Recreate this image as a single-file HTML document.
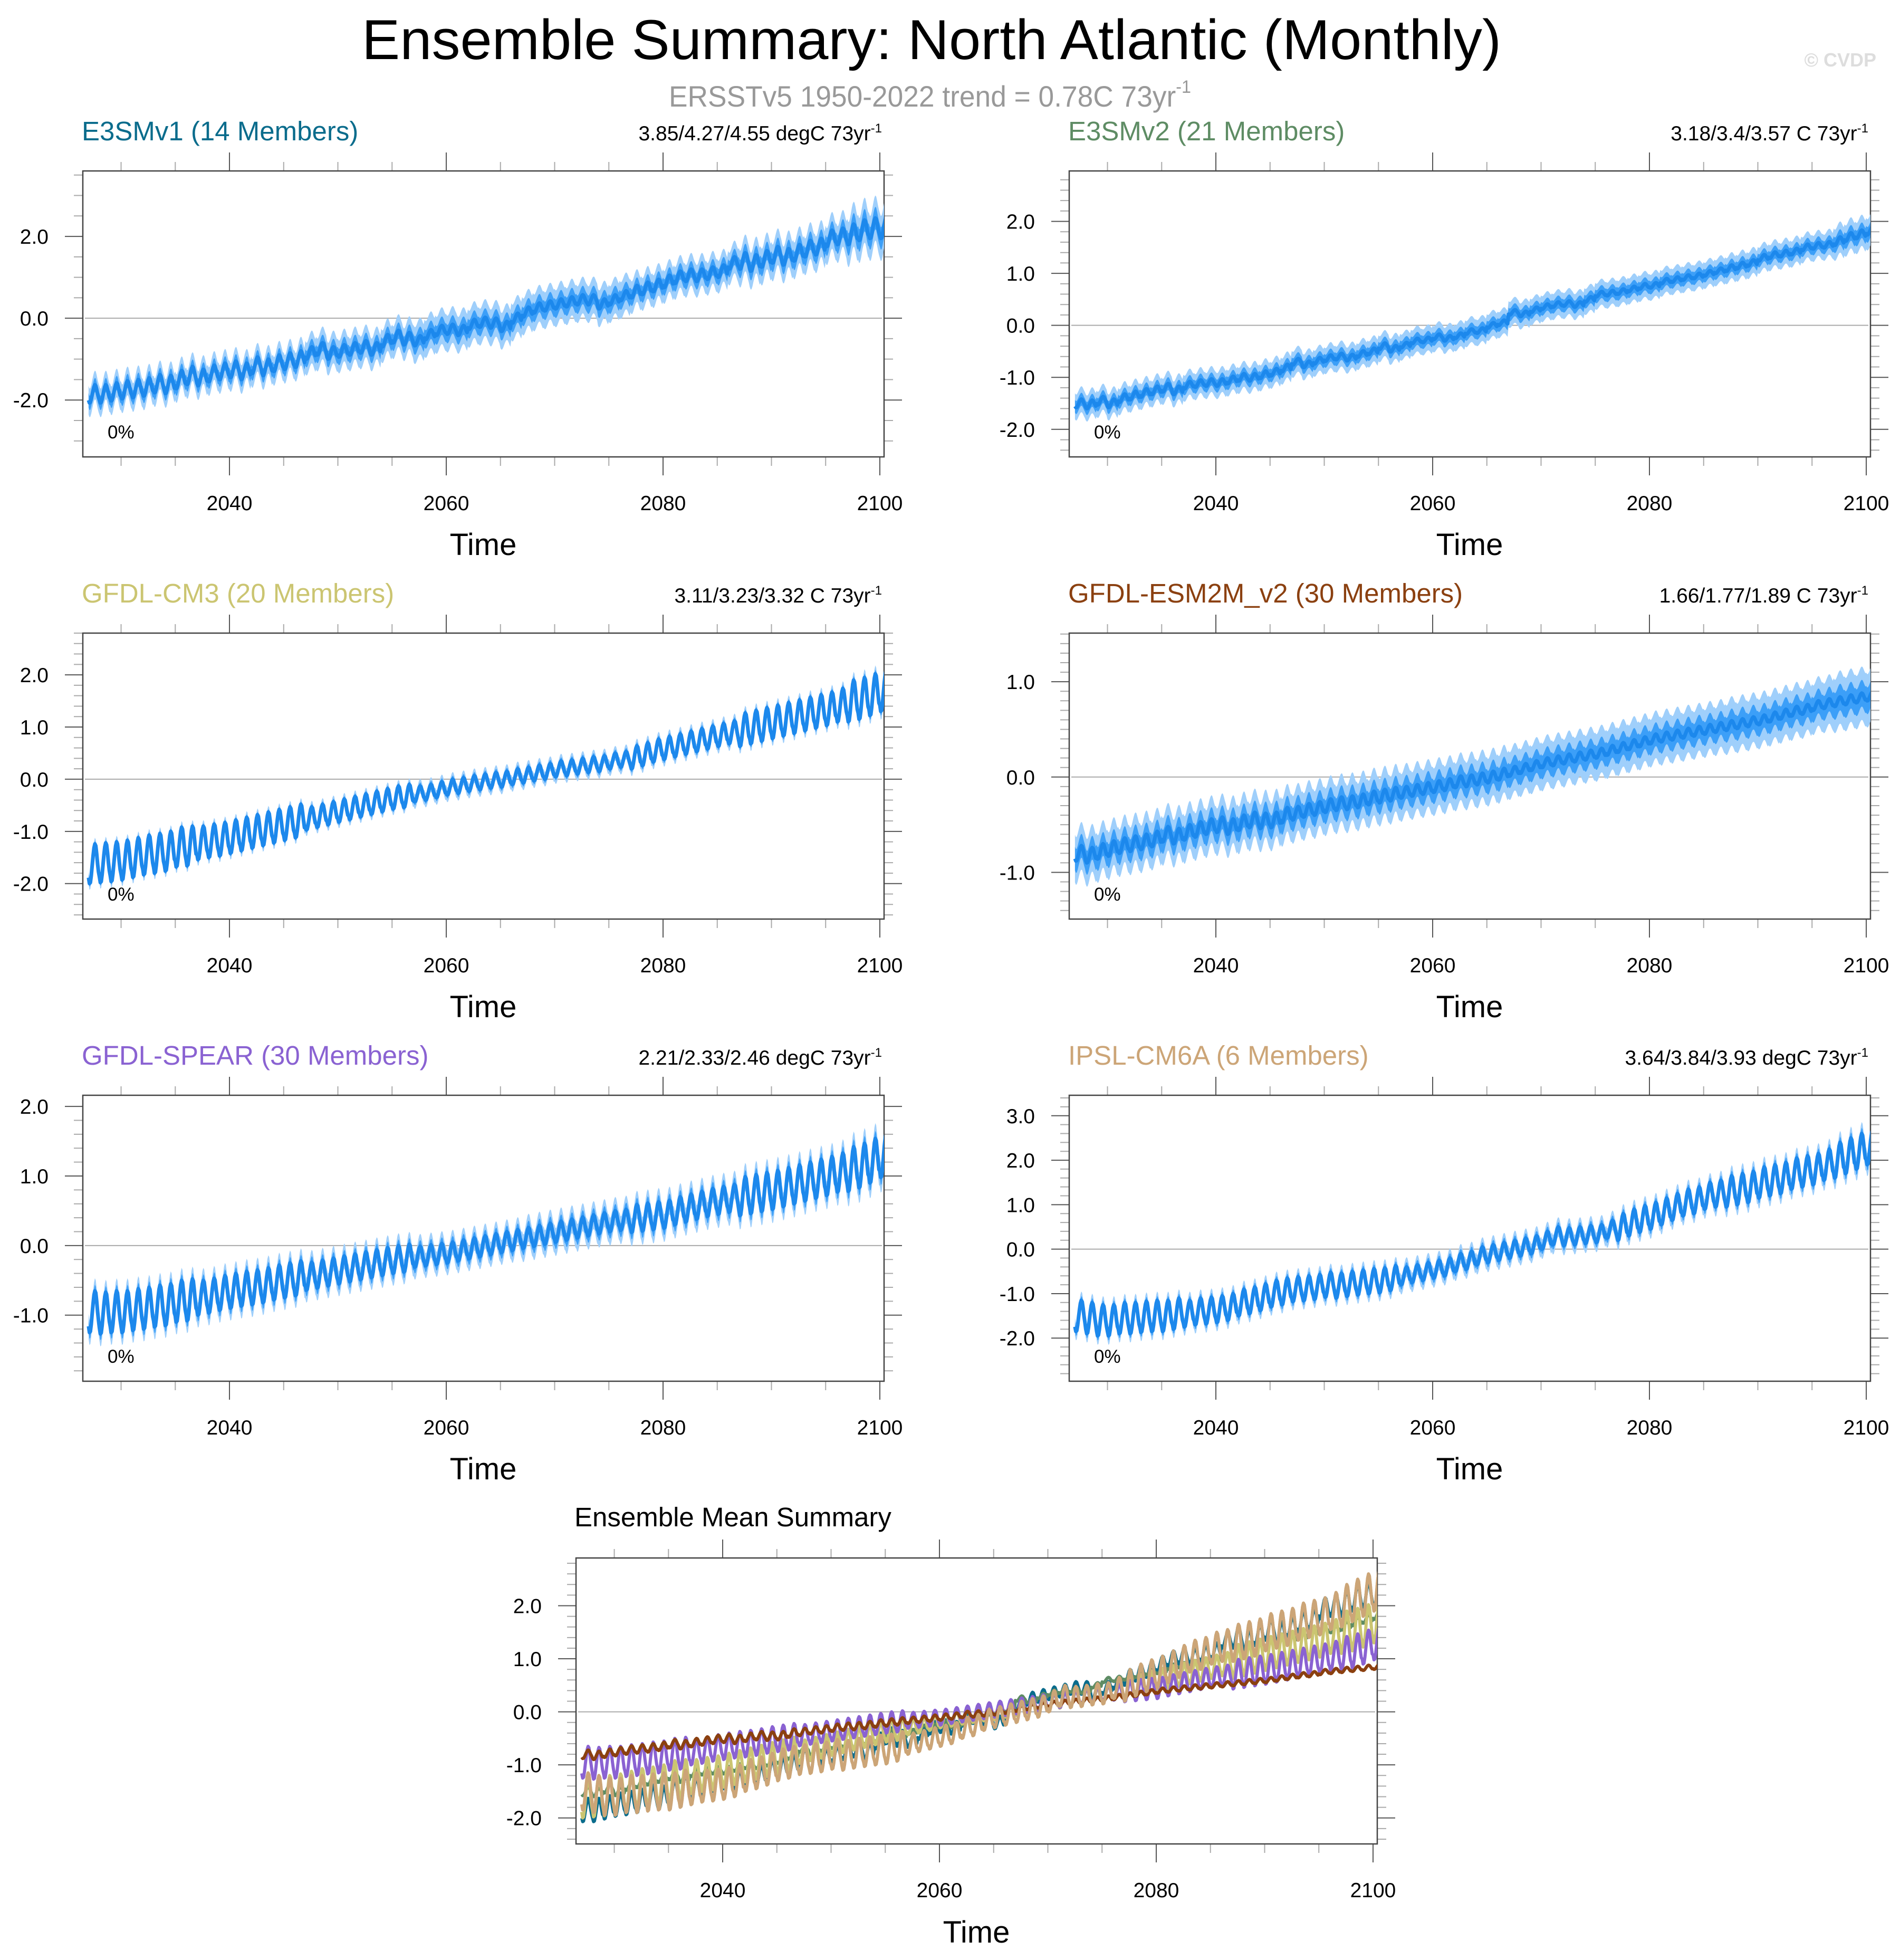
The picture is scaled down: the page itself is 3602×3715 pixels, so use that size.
<!DOCTYPE html>
<html><head><meta charset="utf-8"><title>Ensemble Summary: North Atlantic (Monthly)</title>
<style>
html,body{margin:0;padding:0;background:#fff;}
svg{display:block;font-family:"Liberation Sans",Arial,sans-serif;}
</style></head>
<body>
<svg id="chart" xmlns="http://www.w3.org/2000/svg" width="3602" height="3715" viewBox="0 0 3602 3715">
<rect x="0" y="0" width="3602" height="3715" fill="#fff"/>
<text x="1766" y="112" font-size="107" text-anchor="middle" textLength="2160" lengthAdjust="spacingAndGlyphs" fill="#000">Ensemble Summary: North Atlantic (Monthly)</text>
<text x="1268" y="202" font-size="56" fill="#999" textLength="990" lengthAdjust="spacingAndGlyphs">ERSSTv5 1950-2022 trend = 0.78C 73yr<tspan font-size="34" dy="-26">-1</tspan></text>
<text x="3557" y="126" font-size="36" fill="#ddd" text-anchor="end" font-weight="bold">© CVDP</text>

<text x="155" y="266" font-size="51" fill="#0A6C8C">E3SMv1 (14 Members)</text>
<text x="1672" y="266" font-size="39" text-anchor="end">3.85/4.27/4.55 degC 73yr<tspan font-size="24" dy="-15">-1</tspan></text>
<text x="2025" y="266" font-size="51" fill="#5E8C64">E3SMv2 (21 Members)</text>
<text x="3542" y="266" font-size="39" text-anchor="end">3.18/3.4/3.57 C 73yr<tspan font-size="24" dy="-15">-1</tspan></text>

<text x="155" y="1142" font-size="51" fill="#CBC571">GFDL-CM3 (20 Members)</text>
<text x="1672" y="1142" font-size="39" text-anchor="end">3.11/3.23/3.32 C 73yr<tspan font-size="24" dy="-15">-1</tspan></text>
<text x="2025" y="1142" font-size="51" fill="#8B4010">GFDL-ESM2M_v2 (30 Members)</text>
<text x="3542" y="1142" font-size="39" text-anchor="end">1.66/1.77/1.89 C 73yr<tspan font-size="24" dy="-15">-1</tspan></text>

<text x="155" y="2018" font-size="51" fill="#8A62D2">GFDL-SPEAR (30 Members)</text>
<text x="1672" y="2018" font-size="39" text-anchor="end">2.21/2.33/2.46 degC 73yr<tspan font-size="24" dy="-15">-1</tspan></text>
<text x="2025" y="2018" font-size="51" fill="#CCA577">IPSL-CM6A (6 Members)</text>
<text x="3542" y="2018" font-size="39" text-anchor="end">3.64/3.84/3.93 degC 73yr<tspan font-size="24" dy="-15">-1</tspan></text>

<text x="1089" y="2893" font-size="51" fill="#000">Ensemble Mean Summary</text>

<text x="916" y="1052" font-size="58" text-anchor="middle">Time</text>
<text x="2786" y="1052" font-size="58" text-anchor="middle">Time</text>
<text x="916" y="1928" font-size="58" text-anchor="middle">Time</text>
<text x="2786" y="1928" font-size="58" text-anchor="middle">Time</text>
<text x="916" y="2804" font-size="58" text-anchor="middle">Time</text>
<text x="2786" y="2804" font-size="58" text-anchor="middle">Time</text>
<text x="1851" y="3682" font-size="58" text-anchor="middle">Time</text>

<text x="204" y="831" font-size="35">0%</text>
<text x="2074" y="831" font-size="35">0%</text>
<text x="204" y="1707" font-size="35">0%</text>
<text x="2074" y="1707" font-size="35">0%</text>
<text x="204" y="2583" font-size="35">0%</text>
<text x="2074" y="2583" font-size="35">0%</text>
<g id="plots"></g>
</svg>
<script>
const startYear = 2027;
const monthShape = [-0.7,-1.0,-0.95,-0.6,-0.1,0.4,0.8,1.0,0.9,0.5,0.0,-0.4];
const xTickYears = [2040,2060,2080,2100];
const xTickLabels = ["2040","2060","2080","2100"];

const e3smv1Annual = [-1.85,-1.85,-1.8,-1.75,-1.72,-1.68,-1.6,-1.62,-1.5,-1.4,
 -1.45,-1.35,-1.3,-1.25,-1.3,-1.15,-1.2,-1.1,-1.05,-1.0,
 -0.85,-0.75,-0.85,-0.8,-0.75,-0.7,-0.75,-0.55,-0.45,-0.5,
 -0.55,-0.4,-0.3,-0.27,-0.3,-0.15,-0.1,-0.12,-0.2,0.0,
 0.15,0.25,0.3,0.35,0.4,0.45,0.45,0.35,0.45,0.55,
 0.65,0.73,0.8,0.9,1.0,1.05,1.05,1.1,1.15,1.35,
 1.4,1.35,1.45,1.55,1.5,1.6,1.7,1.75,1.95,2.0,
 2.05,2.15,2.2,2.2];
const e3smv2Annual = [-1.5,-1.52,-1.45,-1.5,-1.4,-1.35,-1.3,-1.25,-1.2,-1.25,
 -1.15,-1.12,-1.1,-1.1,-1.05,-1.0,-1.0,-0.95,-0.9,-0.82,
 -0.7,-0.75,-0.68,-0.63,-0.6,-0.62,-0.55,-0.5,-0.4,-0.45,
 -0.38,-0.3,-0.28,-0.22,-0.25,-0.2,-0.12,-0.1,0.0,0.05,
 0.25,0.22,0.3,0.36,0.4,0.42,0.4,0.5,0.6,0.62,
 0.65,0.7,0.75,0.77,0.85,0.88,0.92,0.95,1.0,1.05,
 1.1,1.15,1.2,1.3,1.35,1.38,1.42,1.5,1.53,1.55,
 1.62,1.7,1.75,1.82];
const cm3Annual = [-1.62,-1.6,-1.58,-1.55,-1.5,-1.45,-1.42,-1.38,-1.3,-1.28,
 -1.22,-1.18,-1.15,-1.1,-1.05,-1.0,-0.95,-0.9,-0.85,-0.8,
 -0.75,-0.7,-0.65,-0.6,-0.55,-0.5,-0.45,-0.4,-0.35,-0.32,
 -0.28,-0.25,-0.2,-0.15,-0.12,-0.08,-0.05,-0.02,0.0,0.05,
 0.08,0.12,0.15,0.2,0.22,0.25,0.28,0.3,0.35,0.38,
 0.42,0.48,0.55,0.6,0.65,0.7,0.75,0.8,0.85,0.9,
 0.95,1.0,1.05,1.1,1.15,1.2,1.25,1.3,1.35,1.42,
 1.5,1.55,1.62,1.7];
const esm2mAnnual = [-0.8,-0.82,-0.78,-0.75,-0.72,-0.7,-0.68,-0.65,-0.6,-0.62,
 -0.58,-0.55,-0.52,-0.5,-0.52,-0.48,-0.45,-0.46,-0.45,-0.4,
 -0.38,-0.35,-0.33,-0.3,-0.28,-0.27,-0.25,-0.22,-0.2,-0.18,
 -0.16,-0.14,-0.12,-0.1,-0.08,-0.05,-0.04,-0.02,0.0,0.03,
 0.06,0.09,0.12,0.15,0.17,0.19,0.21,0.23,0.25,0.28,
 0.31,0.34,0.37,0.4,0.42,0.44,0.46,0.48,0.5,0.52,
 0.54,0.56,0.58,0.6,0.63,0.66,0.69,0.71,0.75,0.77,
 0.79,0.81,0.83,0.85];
const spearAnnual = [-0.95,-0.97,-0.95,-0.95,-0.92,-0.9,-0.87,-0.85,-0.8,-0.78,
 -0.75,-0.72,-0.68,-0.65,-0.62,-0.6,-0.57,-0.53,-0.5,-0.47,
 -0.44,-0.41,-0.38,-0.35,-0.32,-0.29,-0.26,-0.23,-0.2,-0.18,
 -0.16,-0.14,-0.12,-0.1,-0.07,-0.04,-0.01,0.02,0.05,0.08,
 0.11,0.14,0.17,0.2,0.23,0.26,0.29,0.32,0.35,0.37,
 0.39,0.41,0.43,0.45,0.5,0.54,0.58,0.62,0.65,0.68,
 0.71,0.74,0.77,0.8,0.84,0.88,0.92,0.96,1.0,1.05,
 1.1,1.15,1.22,1.3];
const ipslAnnual = [-1.5,-1.55,-1.6,-1.6,-1.55,-1.55,-1.52,-1.5,-1.5,-1.45,
 -1.45,-1.4,-1.38,-1.35,-1.3,-1.2,-1.15,-1.08,-1.0,-0.95,
 -0.9,-0.88,-0.85,-0.8,-0.82,-0.78,-0.75,-0.72,-0.7,-0.65,
 -0.6,-0.55,-0.5,-0.45,-0.4,-0.3,-0.25,-0.15,-0.1,-0.05,
 0.0,0.05,0.1,0.2,0.3,0.28,0.3,0.33,0.35,0.45,
 0.5,0.6,0.68,0.75,0.85,0.95,1.05,1.1,1.2,1.25,
 1.3,1.35,1.4,1.5,1.55,1.6,1.7,1.75,1.8,1.9,
 2.0,2.1,2.2,2.3];

const e3smv1Amp = [0.22,0.2,0.15,0.12,0.12,0.15,0.2,0.25];
const e3smv2Amp = [0.08,0.07,0.06,0.05,0.05,0.05,0.06,0.08];
const cm3Amp = [0.38,0.32,0.22,0.15,0.15,0.22,0.32,0.4];
const esm2mAmp = [0.08,0.08,0.07,0.06,0.05,0.05,0.05,0.05];
const spearAmp = [0.3,0.25,0.2,0.15,0.15,0.2,0.28,0.32];
const ipslAmp = [0.35,0.3,0.28,0.2,0.2,0.3,0.35,0.4];

const e3smv1Spread = [0.35,0.35,0.4,0.45,0.45,0.4,0.45,0.55];
const e3smv2Spread = [0.25,0.25,0.25,0.25,0.25,0.25,0.25,0.3];
const cm3Spread = [0.12,0.12,0.12,0.14,0.14,0.14,0.14,0.16];
const esm2mSpread = [0.25,0.25,0.25,0.25,0.25,0.25,0.26,0.28];
const spearSpread = [0.18,0.18,0.18,0.18,0.2,0.2,0.2,0.22];
const ipslSpread = [0.2,0.2,0.2,0.22,0.22,0.22,0.24,0.26];

const NS = "http://www.w3.org/2000/svg";
function mk(tag, attrs, parent){
  const e = document.createElementNS(NS, tag);
  for (const k in attrs) e.setAttribute(k, attrs[k]);
  parent.appendChild(e);
  return e;
}
function monthly(annual, amp){
  const out = [];
  for (let y = 0; y < annual.length; y++){
    const a = amp[Math.min(amp.length-1, Math.floor(y/10))];
    for (let m = 0; m < 12; m++) out.push(annual[y] + a*monthShape[m]);
  }
  return out;
}
const X0 = 2026.47, X1 = 2100.39;
function makeAxes(bx, by, w, h, ymin, ymax){
  return {
    x: t => bx + (t - X0)/(X1 - X0)*w,
    y: v => by + (ymax - v)/(ymax - ymin)*h
  };
}
const root = document.getElementById('plots');
const W = 1519, H = 542;
let clipId = 0;

function drawFrame(g, bx, by, ymin, ymax, majors, minorStep, ax, name){
  const z = mk('line',{x1:bx+4,x2:bx+W-4,y1:ax.y(0),y2:ax.y(0),stroke:'#aaa','stroke-width':2},g);
  
  
  const start = Math.ceil(ymin/minorStep - 1e-6);
  for (let k = start; k*minorStep <= ymax + 1e-6; k++){
    const v = k*minorStep;
    const isMajor = majors.some(mj => Math.abs(mj - v) < 1e-6);
    const L = isMajor ? 34 : 17;
    const col = isMajor ? '#555' : '#aaa';
    const yy = ax.y(v);
    const t1 = mk('line',{x1:bx-L,x2:bx,y1:yy,y2:yy,stroke:col,'stroke-width':2},g);
    
    
    const t2 = mk('line',{x1:bx+W,x2:bx+W+L,y1:yy,y2:yy,stroke:col,'stroke-width':2},g);
    
    
  }
  majors.forEach(v => {
    const lb = mk('text',{x:bx-65,y:ax.y(v)+14,'font-size':39,'text-anchor':'end'},g);
    lb.textContent = v.toFixed(1);
    
    
  });
  for (let yr = 2030; yr <= 2100; yr += 5){
    const isMajor = yr % 20 === 0;
    const L = isMajor ? 35 : 17;
    const col = isMajor ? '#555' : '#aaa';
    const xx = ax.x(yr);
    const a = mk('line',{x1:xx,x2:xx,y1:by-L,y2:by,stroke:col,'stroke-width':2},g);
    
    
    const b = mk('line',{x1:xx,x2:xx,y1:by+H,y2:by+H+L,stroke:col,'stroke-width':2},g);
    
    
  }
  xTickYears.forEach((yr,i) => {
    const lb = mk('text',{x:ax.x(yr),y:by+H+101,'font-size':39,'text-anchor':'middle'},g);
    lb.textContent = xTickLabels[i];
    
    
  });
  const box = mk('rect',{x:bx,y:by,width:W,height:H,fill:'none',stroke:'#444','stroke-width':2.5},g);
  
  
}
function makeClip(g, bx, by){
  clipId++;
  const cp = mk('clipPath',{id:'clip'+clipId},g);
  mk('rect',{x:bx,y:by,width:W,height:H},cp);
  return 'url(#clip'+clipId+')';
}
function pathFrom(vals, ax){
  let d = '';
  vals.forEach((v,i) => { d += (i ? 'L' : 'M') + ax.x(startYear + i/12).toFixed(1) + ',' + ax.y(v).toFixed(1); });
  return d;
}
function bandPath(vals, spread, frac, ax){
  let up = '', lo = [];
  vals.forEach((v,i) => {
    const s = spread[Math.min(spread.length-1, Math.floor(i/120))]*frac;
    const x = ax.x(startYear + i/12).toFixed(1);
    up += (i ? 'L' : 'M') + x + ',' + ax.y(v+s).toFixed(1);
    lo.push('L' + x + ',' + ax.y(v-s).toFixed(1));
  });
  return up + lo.reverse().join('') + 'Z';
}

const panels = [
  {name:'e3smv1', col:0,row:0, ymin:-3.39,ymax:3.6, majors:[-2,0,2], minor:0.5, annual:e3smv1Annual, amp:e3smv1Amp, spread:e3smv1Spread},
  {name:'e3smv2', col:1,row:0, ymin:-2.53,ymax:2.97, majors:[-2,-1,0,1,2], minor:0.2, annual:e3smv2Annual, amp:e3smv2Amp, spread:e3smv2Spread},
  {name:'gfdl-cm3', col:0,row:1, ymin:-2.68,ymax:2.8, majors:[-2,-1,0,1,2], minor:0.2, annual:cm3Annual, amp:cm3Amp, spread:cm3Spread},
  {name:'gfdl-esm2m', col:1,row:1, ymin:-1.49,ymax:1.51, majors:[-1,0,1], minor:0.1, annual:esm2mAnnual, amp:esm2mAmp, spread:esm2mSpread},
  {name:'gfdl-spear', col:0,row:2, ymin:-1.95,ymax:2.16, majors:[-1,0,1,2], minor:0.2, annual:spearAnnual, amp:spearAmp, spread:spearSpread},
  {name:'ipsl-cm6a', col:1,row:2, ymin:-2.97,ymax:3.46, majors:[-2,-1,0,1,2,3], minor:0.2, annual:ipslAnnual, amp:ipslAmp, spread:ipslSpread}
];
const colX = [157, 2027];
const rowY = [324, 1200, 2076];

panels.forEach(p => {
  const bx = colX[p.col], by = rowY[p.row];
  const g = mk('g',{},root);
  
  
  const ax = makeAxes(bx, by, W, H, p.ymin, p.ymax);
  const clip = makeClip(g, bx, by);
  const vals = monthly(p.annual, p.amp);
  drawFrame(g, bx, by, p.ymin, p.ymax, p.majors, p.minor, ax, p.name);
  const dg = mk('g',{'clip-path':clip},g);
  const b1 = mk('path',{d:bandPath(vals,p.spread,1,ax),fill:'#9FCFFB',stroke:'none'},dg);
  
  
  const b2 = mk('path',{d:bandPath(vals,p.spread,0.5,ax),fill:'#3C9FF8',stroke:'none'},dg);
  
  
  const ln = mk('path',{d:pathFrom(vals,ax),fill:'none',stroke:'#1C88EC','stroke-width':7,'stroke-linejoin':'round'},dg);
  
  
});

const sumSeries = [
  {name:'ipsl-cm6a', annual:ipslAnnual, amp:ipslAmp, color:'#CCA577'},
  {name:'e3smv1', annual:e3smv1Annual, amp:e3smv1Amp, color:'#0A6C8C'},
  {name:'e3smv2', annual:e3smv2Annual, amp:e3smv2Amp, color:'#5E8C64'},
  {name:'gfdl-cm3', annual:cm3Annual, amp:cm3Amp, color:'#CBC571'},
  {name:'gfdl-spear', annual:spearAnnual, amp:spearAmp, color:'#8A62D2'},
  {name:'gfdl-esm2m', annual:esm2mAnnual, amp:esm2mAmp, color:'#8B4010'},
  {name:'ipsl-cm6a-top', annual:ipslAnnual, amp:ipslAmp, color:'#CCA577'}
];
(function(){
  const bx = 1092, by = 2953;
  const g = mk('g',{},root);
  
  
  const ax = makeAxes(bx, by, W, H, -2.49, 2.9);
  const clip = makeClip(g, bx, by);
  drawFrame(g, bx, by, -2.49, 2.9, [-2,-1,0,1,2], 0.2, ax, 'summary');
  const dg = mk('g',{'clip-path':clip},g);
  sumSeries.forEach(s => {
    const vals = monthly(s.annual, s.amp);
    const ln = mk('path',{d:pathFrom(vals,ax),fill:'none',stroke:s.color,'stroke-width':6,'stroke-linejoin':'round'},dg);
    
    
  });
})();
</script>
</body></html>
